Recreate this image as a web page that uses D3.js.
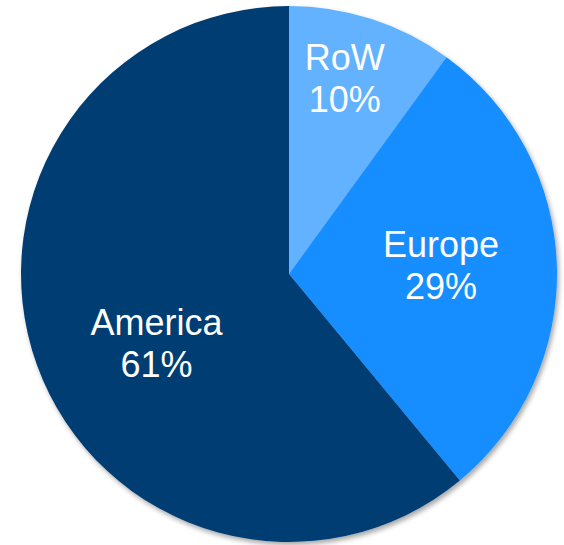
<!DOCTYPE html>
<html>
<head>
<meta charset="utf-8">
<script src="https://cdn.jsdelivr.net/npm/d3@7"></script>
<style>
  html, body { margin: 0; padding: 0; background: #fff; }
  svg { display: block; }
</style>
</head>
<body>
<div id="chart"></div>
<script>
// Data
const regions = ["RoW", "Europe", "America"];
const shares = [10, 29, 61];

const width = 564;
const height = 545;
const cx = 289, cy = 274, radius = 268;

const color = d3.scaleOrdinal()
    .domain(regions)
    .range(["#62b2ff", "#168eff", "#003d73"]);

// label placement: angle (deg) and distance from centre
const labelPos = {
    RoW: [17, 191],
    Europe: [91.5, 152],
    America: [238.2, 156]
};

const svg = d3.create("svg")
    .attr("width", width)
    .attr("height", height)
    .attr("viewBox", [0, 0, width, height]);

const defs = svg.append("defs");
const filter = defs.append("filter")
    .attr("id", "shadow")
    .attr("x", "-10%").attr("y", "-10%")
    .attr("width", "120%").attr("height", "120%");
filter.append("feDropShadow")
    .attr("dx", 2).attr("dy", 3)
    .attr("stdDeviation", 2.5)
    .attr("flood-color", "#000")
    .attr("flood-opacity", 0.35);

const pie = d3.pie().sort(null).value(d => d.value);
const arcs = pie(regions.map((r, i) => ({ name: r, value: shares[i] })));
const arc = d3.arc().innerRadius(0).outerRadius(radius);

const g = svg.append("g").attr("transform", `translate(${cx},${cy})`);

g.append("g")
    .attr("filter", "url(#shadow)")
    .selectAll("path")
    .data(arcs)
    .join("path")
    .attr("d", arc)
    .attr("fill", d => color(d.data.name));

const labels = g.selectAll("text")
    .data(arcs)
    .join("text")
    .attr("transform", d => {
        const [a, r] = labelPos[d.data.name];
        const t = a * Math.PI / 180;
        return `translate(${r * Math.sin(t)},${-r * Math.cos(t)})`;
    })
    .attr("text-anchor", "middle")
    .attr("fill", "#fff")
    .attr("font-family", "Liberation Sans, Arial, sans-serif")
    .attr("font-size", 36);

labels.append("tspan")
    .attr("x", 0)
    .attr("y", -21)
    .text(d => d.data.name);

labels.append("tspan")
    .attr("x", 0)
    .attr("y", 21)
    .text(d => d.data.value + "%");

document.querySelector("#chart").appendChild(svg.node());
</script>
</body>
</html>
